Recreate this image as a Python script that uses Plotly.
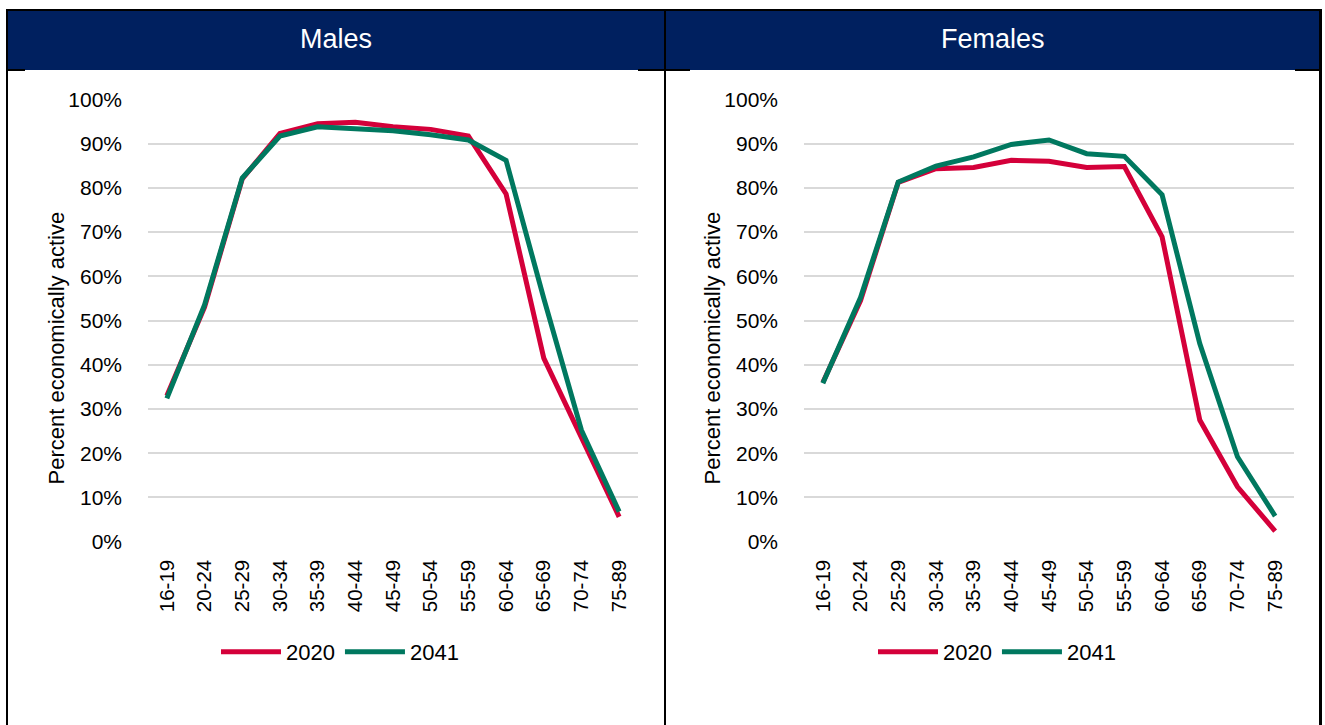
import plotly.graph_objects as go

# ---------------- data ----------------
age_groups = ["16-19", "20-24", "25-29", "30-34", "35-39", "40-44", "45-49",
              "50-54", "55-59", "60-64", "65-69", "70-74", "75-89"]
males_2020 = [33.0, 53.0, 82.0, 92.3, 94.5, 94.8, 93.8, 93.2, 91.7, 78.6, 41.5, 23.7, 5.6]
males_2041 = [32.4, 53.5, 82.2, 91.7, 93.8, 93.4, 92.9, 92.0, 90.8, 86.2, 55.0, 25.2, 6.8]
females_2020 = [36.0, 54.5, 81.2, 84.3, 84.6, 86.2, 86.0, 84.6, 84.8, 68.9, 27.5, 12.4, 2.4]
females_2041 = [35.8, 55.2, 81.3, 84.9, 87.0, 89.8, 90.8, 87.7, 87.1, 78.4, 44.8, 19.2, 5.8]
panel_titles = ["Males", "Females"]
series_names = ["2020", "2041"]
y_title = "Percent economically active"
y_tick_values = [0, 10, 20, 30, 40, 50, 60, 70, 80, 90, 100]
y_tick_labels = ["0%", "10%", "20%", "30%", "40%", "50%", "60%", "70%", "80%", "90%", "100%"]

RED = "#D4003A"
GREEN = "#00785F"
NAVY = "#00205F"
GRID = "#D9D9D9"
FONT = "Liberation Sans, Arial, sans-serif"

W, H = 1325, 725


def px(x):
    return x / W


def py(y):
    return 1 - y / H


fig = go.Figure()

panels = [
    ("x", "y", males_2020, males_2041, "legend"),
    ("x2", "y2", females_2020, females_2041, "legend2"),
]
for xa, ya, s20, s41, lg in panels:
    fig.add_trace(go.Scatter(x=age_groups, y=s20, name=series_names[0], mode="lines",
                             line=dict(color=RED, width=5), xaxis=xa, yaxis=ya,
                             legend=lg))
    fig.add_trace(go.Scatter(x=age_groups, y=s41, name=series_names[1], mode="lines",
                             line=dict(color=GREEN, width=5), xaxis=xa, yaxis=ya,
                             legend=lg))

y_dom = [py(541.7), py(99.3)]
common_x = dict(type="category", range=[-0.5, 12.5], tickangle=-90, showgrid=False,
                showline=False, zeroline=False, ticks="", automargin=False,
                tickfont=dict(family=FONT, size=20.5, color="#000"), ticklabelstandoff=13)
common_y = dict(range=[0, 100], tickmode="array", tickvals=y_tick_values,
                ticktext=y_tick_labels, showgrid=True,
                gridcolor=GRID, gridwidth=1.5, zeroline=False, showline=False, ticks="",
                automargin=False, tickfont=dict(family=FONT, size=21, color="#000"),
                ticklabelstandoff=25)

legend_common = dict(orientation="h", y=py(652), xanchor="center", yanchor="middle",
                     font=dict(family=FONT, size=22, color="#000"),
                     bgcolor="rgba(0,0,0,0)", itemwidth=60, tracegroupgap=0)

fig.update_layout(
    width=W, height=H, autosize=False, template="none",
    margin=dict(l=0, r=0, t=0, b=0),
    paper_bgcolor="white", plot_bgcolor="white",
    font=dict(family=FONT, color="#000"),
    xaxis=dict(domain=[px(148), px(638)], anchor="y", **common_x),
    yaxis=dict(domain=y_dom, anchor="x", **common_y),
    xaxis2=dict(domain=[px(804), px(1294)], anchor="y2", **common_x),
    yaxis2=dict(domain=y_dom, anchor="x2", **common_y),
    legend=dict(x=px(340), **legend_common),
    legend2=dict(x=px(997), **legend_common),
)

shapes = []
# header bands
for x0, x1 in [(6, 665), (665, 1321)]:
    shapes.append(dict(type="rect", xref="paper", yref="paper", x0=px(x0), x1=px(x1),
                       y0=py(70), y1=py(10), fillcolor=NAVY, line=dict(width=0),
                       layer="below"))


def hline(x0, x1, y, w=2):
    shapes.append(dict(type="line", xref="paper", yref="paper", x0=px(x0), x1=px(x1),
                       y0=py(y), y1=py(y), line=dict(color="black", width=w)))


def vline(x, y0, y1, w=2):
    shapes.append(dict(type="line", xref="paper", yref="paper", x0=px(x), x1=px(x),
                       y0=py(y0), y1=py(y1), line=dict(color="black", width=w)))


hline(6, 1322, 10)
vline(7, 9, 725)
vline(665, 9, 725)
vline(1320.5, 9, 725, 3)
hline(6, 25, 70)
hline(638, 690, 70)
hline(1295, 1322, 70)
fig.update_layout(shapes=shapes)

for cx, title in zip([335.5, 993], panel_titles):
    fig.add_annotation(xref="paper", yref="paper", x=px(cx), y=py(39.5), text=title,
                       showarrow=False, xanchor="center", yanchor="middle",
                       font=dict(family=FONT, size=27, color="white"))

# y-axis titles
for tx in [55.5, 711.5]:
    fig.add_annotation(xref="paper", yref="paper", x=px(tx), y=py(348), text=y_title,
                       textangle=-90, showarrow=False, xanchor="center", yanchor="middle",
                       font=dict(family=FONT, size=22, color="#000"))

fig.write_html("out.html", config={"displayModeBar": False},
               post_script="document.body.style.margin='0px';"
                           "document.body.style.overflow='hidden';")
